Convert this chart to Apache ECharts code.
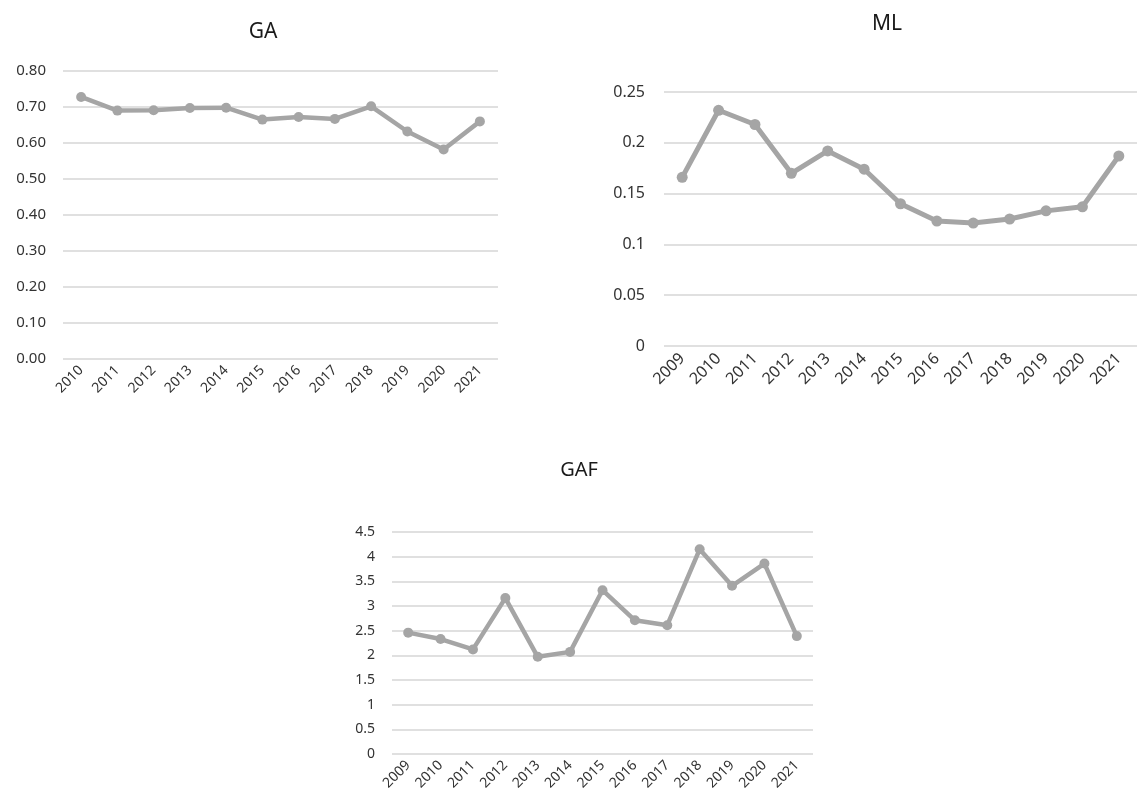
<!DOCTYPE html>
<html>
<head>
<meta charset="utf-8">
<title>GA, ML, GAF</title>
<script src="https://cdn.jsdelivr.net/npm/echarts@6/dist/echarts.min.js"></script>
<style>
  html, body { margin: 0; padding: 0; background: #ffffff; }
  #chart { width: 1137px; height: 801px; }
</style>
</head>
<body>
<div id="chart"></div>
<script>
// Year categories for each panel
const yearsGA = ['2010','2011','2012','2013','2014','2015','2016','2017','2018','2019','2020','2021'];
const yearsML = ['2009','2010','2011','2012','2013','2014','2015','2016','2017','2018','2019','2020','2021'];
const yearsGAF = ['2009','2010','2011','2012','2013','2014','2015','2016','2017','2018','2019','2020','2021'];

// Series values
const gaValues = [0.728, 0.690, 0.691, 0.697, 0.698, 0.665, 0.672, 0.667, 0.702, 0.632, 0.582, 0.660];
const mlValues = [0.166, 0.232, 0.218, 0.170, 0.192, 0.174, 0.140, 0.123, 0.121, 0.125, 0.133, 0.137, 0.187];
const gafValues = [2.46, 2.33, 2.12, 3.16, 1.97, 2.07, 3.32, 2.71, 2.61, 4.15, 3.41, 3.86, 2.39];

// Panel titles
const titles = ['GA', 'ML', 'GAF'];

const FONT = 'Noto Sans';
const LINE = '#a5a5a5';
const GRIDLINE = '#d6d6d6';
const TEXT = '#333333';

function xAxis(idx, data, fontSize, margin) {
  return {
    type: 'category', gridIndex: idx, data: data, boundaryGap: true,
    axisLine: { show: false }, axisTick: { show: false },
    axisLabel: { rotate: 45, margin: margin, color: TEXT, fontFamily: FONT, fontSize: fontSize, interval: 0 }
  };
}
function yAxis(idx, max, interval, fontSize, formatter, margin) {
  return {
    type: 'value', gridIndex: idx, min: 0, max: max, interval: interval,
    axisLine: { show: false }, axisTick: { show: false },
    splitLine: { lineStyle: { color: GRIDLINE, width: 1.5 } },
    axisLabel: { color: TEXT, fontFamily: FONT, fontSize: fontSize, margin: margin, formatter: formatter }
  };
}
function lineSeries(idx, data, width, symbolSize) {
  return {
    type: 'line', xAxisIndex: idx, yAxisIndex: idx, data: data,
    symbol: 'circle', symbolSize: symbolSize, animation: false,
    lineStyle: { color: LINE, width: width },
    itemStyle: { color: LINE }
  };
}

const chart = echarts.init(document.getElementById('chart'));
chart.setOption({
  backgroundColor: '#ffffff',
  animation: false,
  title: [
    { text: titles[0], left: 258, top: 17, textAlign: 'center', textStyle: { fontFamily: FONT, fontSize: 21, fontWeight: 'normal', color: '#1a1a1a' } },
    { text: titles[1], left: 882, top: 9, textAlign: 'center', textStyle: { fontFamily: FONT, fontSize: 21, fontWeight: 'normal', color: '#1a1a1a' } },
    { text: titles[2], left: 574, top: 455, textAlign: 'center', textStyle: { fontFamily: FONT, fontSize: 20, fontWeight: 'normal', color: '#1a1a1a' } }
  ],
  grid: [
    { left: 63, top: 71, width: 435, height: 288 },
    { left: 664, top: 92, width: 482, height: 254 },
    { left: 392, top: 532, width: 421, height: 222 }
  ],
  xAxis: [
    xAxis(0, yearsGA, 14, 9),
    xAxis(1, yearsML, 16, 10),
    xAxis(2, yearsGAF, 14, 9)
  ],
  yAxis: [
    yAxis(0, 0.8, 0.1, 15, v => v.toFixed(2), 17),
    yAxis(1, 0.25, 0.05, 16, v => String(Math.round(v * 100) / 100), 19),
    yAxis(2, 4.5, 0.5, 14, v => String(v), 17)
  ],
  series: [
    lineSeries(0, gaValues, 4.5, 10),
    lineSeries(1, mlValues, 5, 11),
    lineSeries(2, gafValues, 4.5, 10)
  ]
});
</script>
</body>
</html>
